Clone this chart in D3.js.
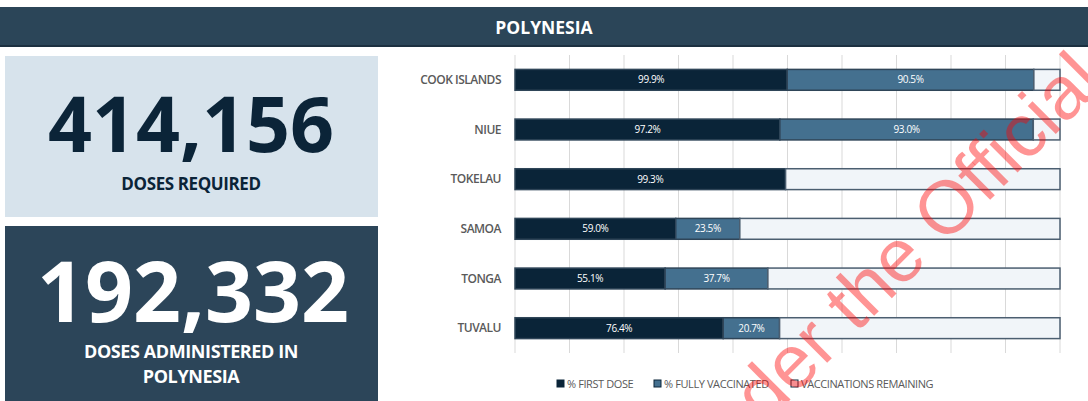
<!DOCTYPE html>
<html>
<head>
<meta charset="utf-8">
<script src="https://cdn.jsdelivr.net/npm/d3@7"></script>
<style>
  html, body { margin: 0; padding: 0; background: #fff; }
  svg { display: block; font-family: "Open Sans", sans-serif; }
</style>
</head>
<body>
<div id="vis"></div>
<script>
// data
let countries = ['COOK ISLANDS', 'NIUE', 'TOKELAU', 'SAMOA', 'TONGA', 'TUVALU'];
let firstDose = [99.9, 97.2, 99.3, 59.0, 55.1, 76.4];
let fullyVaccinated = [90.5, 93.0, 0, 23.5, 37.7, 20.7];
let seriesNames = ['% FIRST DOSE', '% FULLY VACCINATED', 'VACCINATIONS REMAINING'];
let dosesRequired = 414156;
let dosesAdministered = 192332;
let regionName = 'POLYNESIA';

let width = 1088, height = 401;
let colors = ['#0a2438', '#44708f', '#f1f5f9'];

let svg = d3.select('#vis')
  .append('svg')
    .attr('width', width)
    .attr('height', height)
    .attr('viewBox', [0, 0, width, height].join(' '));

// title bar
svg.append('rect')
    .attr('x', 0).attr('y', 7)
    .attr('width', width).attr('height', 40)
    .attr('fill', '#2b4558');
svg.append('rect')
    .attr('x', 0).attr('y', 45)
    .attr('width', width).attr('height', 2)
    .attr('fill', '#1c3040');
svg.append('text')
    .attr('x', width / 2)
    .attr('y', 34)
    .attr('text-anchor', 'middle')
    .attr('fill', '#fff')
    .style('font-size', '17.5px')
    .style('font-weight', 700)
    .text(regionName);

// KPI boxes
let fmt = d3.format(',');
svg.append('rect')
    .attr('x', 5).attr('y', 56)
    .attr('width', 373).attr('height', 161)
    .attr('fill', '#d7e3ec');
svg.append('text')
    .attr('x', 191).attr('y', 152)
    .attr('text-anchor', 'middle')
    .attr('fill', '#0b2438')
    .style('font-size', '77px')
    .style('font-weight', 700)
    .text(fmt(dosesRequired));
svg.append('text')
    .attr('x', 191).attr('y', 190)
    .attr('text-anchor', 'middle')
    .attr('fill', '#0b2438')
    .style('font-size', '17px')
    .style('font-weight', 700)
    .style('letter-spacing', '-0.4px')
    .text('DOSES REQUIRED');

svg.append('rect')
    .attr('x', 5).attr('y', 226)
    .attr('width', 373).attr('height', 180)
    .attr('fill', '#2c4559');
svg.append('text')
    .attr('x', 193).attr('y', 322)
    .attr('text-anchor', 'middle')
    .attr('fill', '#fff')
    .style('font-size', '84px')
    .style('font-weight', 700)
    .text(fmt(dosesAdministered));
let sub = svg.append('text')
    .attr('text-anchor', 'middle')
    .attr('fill', '#fff')
    .style('font-size', '18px')
    .style('font-weight', 700)
    .style('letter-spacing', '-0.4px');
sub.append('tspan').attr('x', 191).attr('y', 358).text('DOSES ADMINISTERED IN');
sub.append('tspan').attr('x', 191).attr('y', 383).text(regionName);

// bar chart
let rows = countries.map((c, i) => ({
  name: c,
  vals: [firstDose[i], fullyVaccinated[i], 200 - firstDose[i] - fullyVaccinated[i]]
}));

let x = d3.scaleLinear().domain([0, 200]).range([515, 1060]);
let y = d3.scaleBand().domain(countries).range([55, 353]).paddingInner(0.58).paddingOuter(0.29);

// grid
svg.append('g')
  .selectAll('line')
  .data(x.ticks(10))
  .join('line')
    .attr('x1', d => x(d)).attr('x2', d => x(d))
    .attr('y1', 55).attr('y2', 353)
    .attr('stroke', '#d9d9d9')
    .attr('stroke-width', 1);

// country labels
svg.append('g')
  .selectAll('text')
  .data(countries)
  .join('text')
    .attr('x', 501)
    .attr('y', d => y(d) + y.bandwidth() / 2 + 4)
    .attr('text-anchor', 'end')
    .attr('fill', '#5a5a5a')
    .style('font-size', '12px')
    .style('font-weight', 600)
    .style('letter-spacing', '-0.5px')
    .text(d => d);

let segs = [];
rows.forEach(r => {
  let start = 0;
  r.vals.forEach((v, k) => {
    segs.push({ name: r.name, k: k, x0: start, x1: start + v, v: v });
    start += v;
  });
});

svg.append('g')
  .selectAll('rect')
  .data(segs.filter(d => d.v > 0))
  .join('rect')
    .attr('x', d => x(d.x0))
    .attr('y', d => y(d.name))
    .attr('width', d => x(d.x1) - x(d.x0))
    .attr('height', y.bandwidth())
    .attr('fill', d => colors[d.k])
    .attr('stroke', d => d.k === 2 ? '#4b5e70' : '#2f4558')
    .attr('stroke-width', 1.5);

svg.append('g')
  .selectAll('text')
  .data(segs.filter(d => d.k < 2 && d.v > 0))
  .join('text')
    .attr('x', d => (x(d.x0) + x(d.x1)) / 2)
    .attr('y', d => y(d.name) + y.bandwidth() / 2 + 3.5)
    .attr('text-anchor', 'middle')
    .attr('fill', '#fff')
    .style('font-size', '10px')
    .style('letter-spacing', '-0.4px')
    .text(d => d.v.toFixed(1) + '%');

// legend
let legendX = [557, 654, 791];
let legend = svg.append('g')
  .selectAll('g')
  .data(seriesNames)
  .join('g')
    .attr('transform', (d, i) => `translate(${legendX[i]},384)`);
legend.append('rect')
    .attr('x', 0).attr('y', -4)
    .attr('width', 7).attr('height', 7)
    .attr('fill', (d, i) => colors[i])
    .attr('stroke', '#0a2438')
    .attr('stroke-width', 1);
legend.append('text')
    .attr('x', 10).attr('y', 3.5)
    .attr('fill', '#595959')
    .style('font-size', '11px')
    .style('letter-spacing', '-0.4px')
    .text(d => d);

// watermark
let wmText = 'Released under the Official Information Act 1982';
let wm = svg.append('g');
let wt = wm.append('text')
    .attr('x', 0).attr('y', 0)
    .attr('fill', '#ff0000')
    .attr('fill-opacity', 0.42)
    .style('font-family', '"Liberation Sans", Arial, sans-serif')
    .style('font-size', '75px')
    .text(wmText);
let fs = 75;
let oIdx = wmText.indexOf('Official');
let ox = wt.node().getStartPositionOfChar(oIdx).x + 0.39 * fs;
let oy = -0.358 * fs;
let ang = -45 * Math.PI / 180;
let tx = 946 - (ox * Math.cos(ang) - oy * Math.sin(ang));
let ty = 206 - (ox * Math.sin(ang) + oy * Math.cos(ang));
wm.attr('transform', `translate(${tx},${ty}) rotate(-45)`);
</script>
</body>
</html>
